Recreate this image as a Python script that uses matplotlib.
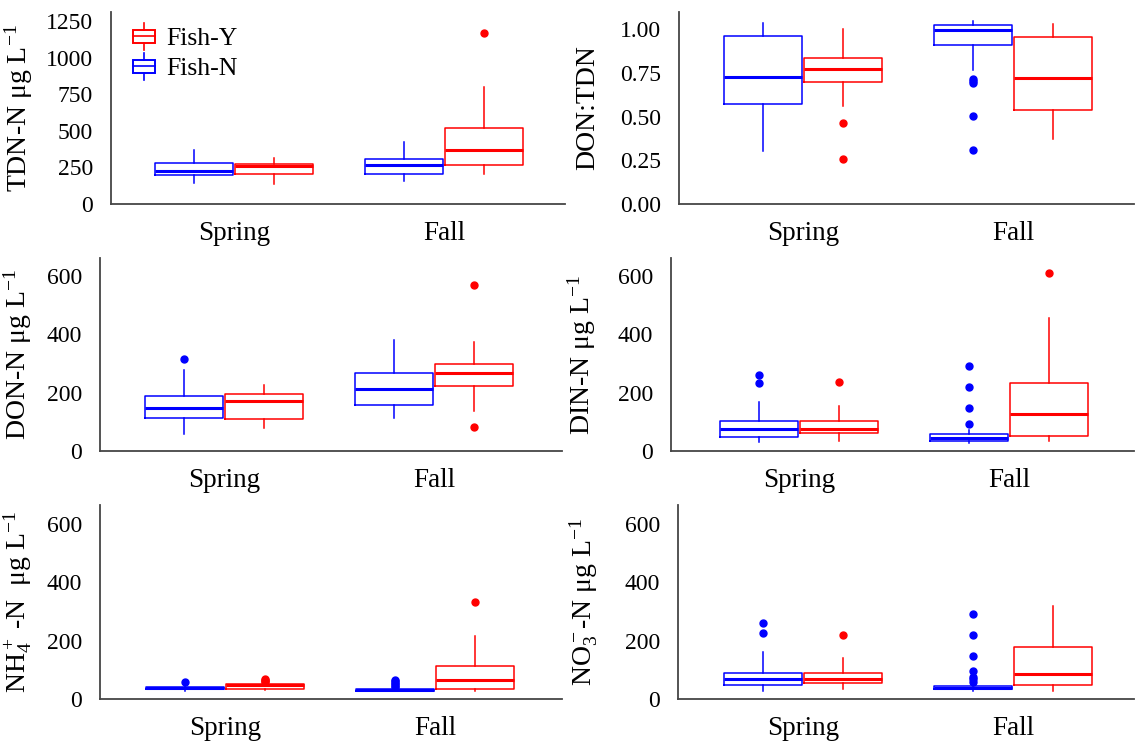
import matplotlib
matplotlib.use("Agg")
import matplotlib.pyplot as plt
from matplotlib.patches import Rectangle
from matplotlib.lines import Line2D
from matplotlib.legend_handler import HandlerBase
from matplotlib.ticker import FormatStrFormatter

plt.rcParams['font.family'] = ['Liberation Serif', 'DejaVu Serif']
plt.rcParams['mathtext.fontset'] = 'custom'
plt.rcParams['mathtext.rm'] = 'Liberation Serif'
plt.rcParams['mathtext.it'] = 'Liberation Serif:italic'

seasons = ['Spring', 'Fall']

# box stats per season: (whisker low, q1, median, q3, whisker high)
tdn_fishN = [(142, 201, 224, 281, 371), (156, 206, 266, 307, 426)]
tdn_fishY = [(135, 204, 259, 275, 314), (204, 268, 369, 520, 799)]
tdn_fishN_out = [[], []]
tdn_fishY_out = [[], [1172]]

ratio_fishN = [(0.304, 0.575, 0.729, 0.961, 1.035), (0.769, 0.912, 0.998, 1.023, 1.050)]
ratio_fishY = [(0.56, 0.700, 0.775, 0.839, 1.002), (0.372, 0.537, 0.723, 0.956, 1.031)]
ratio_fishN_out = [[], [0.718, 0.706, 0.693, 0.504, 0.310]]
ratio_fishY_out = [[0.466, 0.256], []]

don_fishN = [(58, 112, 147, 188, 278), (112, 157, 214, 266, 380)]
don_fishY = [(78, 109, 170, 195, 227), (136, 223, 268, 297, 375)]
don_fishN_out = [[315], []]
don_fishY_out = [[], [568, 82]]

din_fishN = [(30, 47, 76, 102, 169), (29, 34, 46, 57, 72)]
din_fishY = [(34, 63, 74, 102, 154), (35, 53, 128, 234, 455)]
din_fishN_out = [[260, 232], [291, 218, 146, 93]]
din_fishY_out = [[237], [609]]

nh4_fishN = [(29, 33, 36, 40, 48), (28, 29, 31, 33, 36)]
nh4_fishY = [(30, 33, 47, 50, 54), (28, 33, 64, 113, 216)]
nh4_fishN_out = [[58], [40, 45, 50, 55, 60, 65]]
nh4_fishY_out = [[57, 62, 66, 70], [334]]

no3_fishN = [(29, 47, 67, 89, 160), (28, 35, 38, 44, 50)]
no3_fishY = [(33, 54, 67, 89, 139), (28, 47, 85, 179, 319)]
no3_fishN_out = [[262, 227], [292, 219, 146, 96, 76, 67, 59]]
no3_fishY_out = [[219], []]

ylabels = ['TDN-N μg L$^{-1}$', 'DON:TDN', 'DON-N μg L$^{-1}$',
           'DIN-N μg L$^{-1}$', 'NH$_4^+$ -N  μg L$^{-1}$', 'NO$_3^-$-N μg L$^{-1}$']

W, H = 1135, 742
# left, top, right, bottom, spring centre, ylabel offset (pixels)
layout = [(111, 12, 565, 204, 234, 76), (679, 12, 1134, 204, 803, 79),
          (100, 258, 562, 451, 224, 66), (671, 258, 1134, 451, 799, 73),
          (100, 505, 562, 699, 225, 66), (678, 505, 1134, 699, 803, 78)]
unit = 210.0

panels = [
    (tdn_fishN, tdn_fishY, tdn_fishN_out, tdn_fishY_out, 1314, [0, 250, 500, 750, 1000, 1250]),
    (ratio_fishN, ratio_fishY, ratio_fishN_out, ratio_fishY_out, 1.10, [0, 0.25, 0.5, 0.75, 1.0]),
    (don_fishN, don_fishY, don_fishN_out, don_fishY_out, 662, [0, 200, 400, 600]),
    (din_fishN, din_fishY, din_fishN_out, din_fishY_out, 662, [0, 200, 400, 600]),
    (nh4_fishN, nh4_fishY, nh4_fishN_out, nh4_fishY_out, 665, [0, 200, 400, 600]),
    (no3_fishN, no3_fishY, no3_fishN_out, no3_fishY_out, 665, [0, 200, 400, 600]),
]


def make_stats(rows, outs):
    st = []
    for (lo, q1, med, q3, hi), fl in zip(rows, outs):
        st.append(dict(whislo=lo, q1=q1, med=med, q3=q3, whishi=hi, fliers=fl))
    return st


class BoxIcon(HandlerBase):
    def create_artists(self, legend, orig_handle, xdescent, ydescent,
                       width, height, fontsize, trans):
        c = orig_handle.get_edgecolor()
        x0, y0 = -xdescent, -ydescent
        bh = height * 0.8
        by = y0 + (height - bh) / 2
        xm = x0 + width / 2
        arts = [Rectangle((x0, by), width, bh, fill=False, edgecolor=c, lw=1.4, transform=trans),
                Line2D([x0, x0 + width], [y0 + height / 2] * 2, color=c, lw=1.2, transform=trans),
                Line2D([xm, xm], [by + bh, by + bh + height * 0.4], color=c, lw=1.2, transform=trans),
                Line2D([xm, xm], [by, by - height * 0.4], color=c, lw=1.2, transform=trans)]
        return arts


fig = plt.figure(figsize=(W / 100, H / 100), dpi=100)

for i, (nrows, yrows, nout, yout, ytop, yticks) in enumerate(panels):
    l, t, r, b, sc, lab_off = layout[i]
    ax = fig.add_axes([l / W, (H - b) / H, (r - l) / W, (b - t) / H])
    for rows, outs, col, off in [(nrows, nout, 'blue', -0.19), (yrows, yout, 'red', 0.19)]:
        ax.bxp(make_stats(rows, outs), positions=[1 + off, 2 + off], widths=0.375,
               showcaps=False,
               boxprops=dict(color=col, lw=1.1),
               whiskerprops=dict(color=col, lw=1.1),
               medianprops=dict(color=col, lw=2.2),
               flierprops=dict(marker='o', markerfacecolor=col, markeredgecolor=col,
                               markersize=5, linestyle='none'))
    ax.set_xlim(1 - (sc - l) / unit, 1 + (r - sc) / unit)
    ax.set_ylim(0, ytop)
    ax.set_xticks([1, 2])
    ax.set_xticklabels(seasons, fontsize=19.5)
    ax.set_yticks(yticks)
    if i == 1:
        ax.yaxis.set_major_formatter(FormatStrFormatter('%.2f'))
    ax.tick_params(axis='both', length=0)
    ax.tick_params(axis='y', labelsize=17, pad=13)
    ax.tick_params(axis='x', pad=12)
    for s in ['top', 'right']:
        ax.spines[s].set_visible(False)
    for s in ['left', 'bottom']:
        ax.spines[s].set_color('#454545')
        ax.spines[s].set_linewidth(1.3)
    ax.set_ylabel(ylabels[i], fontsize=20)
    ax.yaxis.set_label_coords(-lab_off / (r - l), 0.5)

    if i == 0:
        hy = Rectangle((0, 0), 1, 1, fill=False, edgecolor='red')
        hn = Rectangle((0, 0), 1, 1, fill=False, edgecolor='blue')
        ax.legend([hy, hn], ['Fish-Y', 'Fish-N'], handler_map={Rectangle: BoxIcon()},
                  loc='upper left', bbox_to_anchor=(22 / (r - l), (b - 28) / (b - t)),
                  frameon=False, fontsize=18.5, borderpad=0, borderaxespad=0,
                  handlelength=0.85, handleheight=0.62, handletextpad=0.45,
                  labelspacing=0.3)

fig.savefig('out.png', dpi=100)
